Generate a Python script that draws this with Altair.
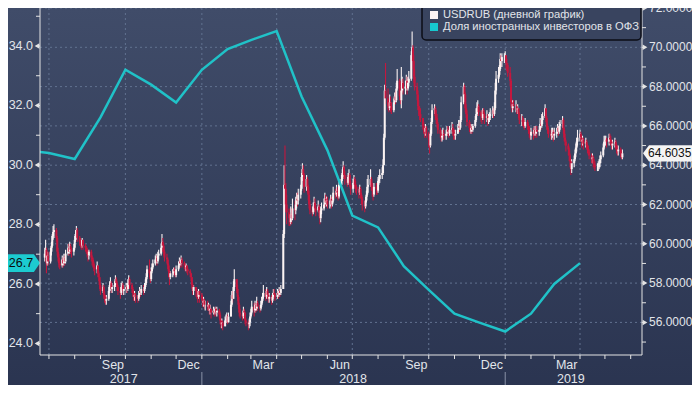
import altair as alt
import pandas as pd

W, H = 602, 347
FONT = "Liberation Sans"

# ---------------- data ----------------
usd_first_open = 59.3
# USDRUB daily closes, one row per week (Mon..Fri), from 2017-06-26
usd_close = [
    59.5, 59.7, 59.0, 59.4, 59.1,
    59.6, 59.9, 60.4, 60.6, 60.7,
    60.3, 59.6, 59.3, 59.0, 58.9,
    59.2, 59.0, 59.3, 59.1, 59.5,
    59.8, 59.6, 59.9, 59.7, 59.6,
    59.8, 60.2, 60.5, 60.7, 60.3,
    60.1, 60.0, 59.9, 60.2, 59.9,
    59.8, 59.7, 59.5, 59.4, 59.6,
    59.3, 59.2, 59.0, 58.8, 58.7,
    58.9, 58.5, 58.3, 57.9, 57.6,
    57.8, 57.4, 57.3, 57.1, 57.2,
    57.6, 57.9, 58.0, 57.7, 57.8,
    57.9, 58.2, 58.0, 57.8, 57.6,
    57.5, 57.8, 57.9, 57.6, 57.7,
    57.8, 57.7, 58.0, 58.2, 57.9,
    57.7, 57.5, 57.3, 57.4, 57.3,
    57.2, 57.4, 57.6, 57.5, 57.7,
    57.6, 57.8, 58.0, 58.3, 58.7,
    58.5, 58.2, 58.6, 58.8, 59.0,
    59.2, 59.3, 59.1, 59.4, 59.5,
    59.8, 60.1, 59.9, 59.6, 59.3,
    59.2, 58.9, 58.6, 58.3, 58.5,
    58.5, 58.7, 58.6, 58.4, 58.7,
    58.9, 59.1, 59.0, 59.2, 59.0,
    58.9, 58.8, 58.9, 58.7, 58.6,
    58.5, 58.3, 57.9, 57.6, 57.8,
    57.6, 57.5, 57.3, 57.6, 57.4,
    57.2, 57.0, 57.1, 56.9, 56.9,
    56.8, 56.9, 56.6, 56.7, 56.5,
    56.6, 56.5, 56.7, 56.5, 56.6,
    56.4, 56.1, 55.9, 56.0, 55.8,
    56.1, 56.2, 56.3, 56.0, 56.3,
    56.9, 57.4, 57.2, 57.8, 58.2,
    57.7, 57.3, 56.9, 56.5, 56.4,
    56.3, 56.6, 56.5, 56.1, 56.0,
    55.9, 56.0, 56.3, 56.5, 56.8,
    56.6, 56.9, 56.7, 57.0, 56.8,
    56.7, 56.9, 57.1, 57.3, 57.5,
    57.3, 57.6, 57.4, 57.2, 57.3,
    57.1, 57.3, 57.5, 57.4, 57.3,
    57.5, 57.4, 57.6, 57.5, 57.7,
    60.5, 63.0, 62.8, 62.0, 61.6,
    61.3, 61.1, 61.5, 61.3, 61.8,
    61.7, 62.0, 62.3, 62.2, 62.5,
    62.8, 63.4, 63.8, 63.5, 62.9,
    63.3, 62.9, 62.5, 62.0, 61.7,
    61.6, 61.9, 62.1, 61.8, 61.7,
    61.9, 61.6, 61.3, 61.7, 61.8,
    62.0, 62.3, 62.1, 62.2, 62.0,
    62.0, 62.3, 62.0, 62.2, 62.6,
    62.5, 62.7, 62.6, 62.4, 63.0,
    63.3, 63.6, 63.9, 63.5, 63.3,
    63.1, 63.4, 63.5, 63.0, 62.8,
    63.1, 63.3, 63.0, 62.9, 62.7,
    62.6, 62.8, 62.5, 62.3, 62.0,
    61.9, 62.2, 62.5, 62.9, 63.0,
    63.3, 62.9, 62.7, 62.5, 62.9,
    62.8, 62.7, 63.2, 63.3, 63.5,
    63.6, 64.0, 65.4, 67.8, 67.4,
    67.0, 66.9, 67.2, 67.0, 66.8,
    67.2, 67.5, 67.3, 67.9, 68.3,
    67.5, 67.3, 67.8, 68.2, 67.9,
    68.0, 68.3, 67.9, 68.2, 68.4,
    69.6, 70.0, 69.3, 68.5, 68.0,
    67.6, 67.0, 66.8, 66.6, 66.4,
    66.0, 65.8, 65.7, 65.9, 65.6,
    65.3, 65.0, 65.6, 66.2, 66.8,
    66.9, 66.5, 66.4, 66.1, 65.8,
    65.6, 65.4, 65.5, 65.6, 65.5,
    65.6, 65.8, 65.7, 65.6, 65.8,
    65.9, 65.7, 65.6, 65.5, 65.6,
    65.8, 66.0, 65.9, 66.3, 67.2,
    68.0, 67.6, 66.9, 66.6, 66.2,
    65.9, 65.7, 65.9, 65.8, 66.0,
    66.3, 66.6, 66.9, 67.0, 66.7,
    66.5, 66.4, 66.8, 66.6, 66.4,
    66.5, 66.3, 66.4, 66.5, 66.6,
    66.8, 66.6, 66.9, 67.8, 68.4,
    68.6, 68.9, 69.4, 69.3, 69.5,
    69.5, 69.6, 69.2, 69.1, 68.7,
    68.3, 67.2, 66.9, 67.1, 67.0,
    67.0, 66.8, 66.9, 66.6, 66.3,
    66.3, 66.2, 66.1, 66.0, 66.2,
    66.0, 65.8, 65.6, 65.5, 65.7,
    65.6, 65.8, 65.6, 65.8, 65.7,
    65.8, 66.1, 66.0, 66.3, 66.5,
    66.9, 66.4, 66.0, 65.8, 65.6,
    65.5, 65.6, 65.7, 65.5, 65.6,
    65.7, 65.9, 65.7, 66.0, 66.1,
    66.3, 65.8, 65.4, 65.2, 65.0,
    64.8, 64.5, 64.2, 63.8, 64.1,
    64.3, 64.6, 64.9, 65.2, 65.4,
    65.6, 65.4, 65.2, 65.3, 65.1,
    65.2, 65.0, 64.8, 64.7, 64.5,
    64.3, 64.4, 64.1, 64.0, 63.9,
    63.9, 63.9, 64.1, 64.3, 64.5,
    64.9, 65.2, 65.3, 65.3, 65.2,
    65.4, 65.3, 65.2, 65.0, 65.1,
    65.2, 65.0, 64.8, 64.7, 64.8,
    64.6, 64.4, 64.6035,
]
usd_high = [
    59.8, 60.2, 59.8, 59.6, 59.6,
    59.8, 60.1, 60.5, 60.9, 61.0,
    60.8, 60.4, 59.8, 59.5, 59.2,
    59.4, 59.3, 59.5, 59.4, 59.7,
    60.0, 60.0, 60.1, 60.0, 59.8,
    60.0, 60.4, 60.7, 60.9, 60.8,
    60.4, 60.3, 60.1, 60.3, 60.2,
    60.0, 59.9, 59.8, 59.6, 59.7,
    59.7, 59.4, 59.3, 59.1, 58.9,
    59.1, 58.9, 58.6, 58.3, 58.0,
    58.0, 57.9, 57.6, 57.4, 57.4,
    57.8, 58.1, 58.3, 58.1, 58.0,
    58.1, 58.4, 58.3, 58.1, 57.9,
    57.8, 58.0, 58.1, 58.0, 57.9,
    58.0, 57.9, 58.2, 58.4, 58.3,
    58.0, 57.8, 57.6, 57.6, 57.5,
    57.4, 57.6, 57.8, 57.7, 57.9,
    57.9, 58.0, 58.2, 58.5, 58.9,
    59.2, 58.6, 58.8, 59.0, 59.2,
    59.4, 59.5, 59.4, 59.6, 59.7,
    60.0, 60.5, 60.3, 60.0, 59.7,
    59.5, 59.3, 59.0, 58.7, 58.6,
    58.7, 58.8, 58.8, 58.7, 58.9,
    59.1, 59.3, 59.2, 59.4, 59.3,
    59.1, 59.0, 59.0, 58.9, 58.8,
    58.7, 58.5, 58.3, 58.0, 57.9,
    57.8, 57.7, 57.6, 57.7, 57.6,
    57.5, 57.3, 57.3, 57.2, 57.1,
    57.1, 57.0, 56.9, 56.9, 56.7,
    56.8, 56.7, 56.8, 56.8, 56.8,
    56.7, 56.5, 56.2, 56.2, 56.1,
    56.3, 56.4, 56.5, 56.4, 56.5,
    57.1, 57.6, 57.6, 58.1, 58.7,
    58.1, 57.9, 57.4, 57.0, 56.7,
    56.5, 56.8, 56.7, 56.5, 56.2,
    56.1, 56.2, 56.5, 56.7, 57.1,
    57.0, 57.1, 57.0, 57.3, 57.1,
    56.9, 57.1, 57.3, 57.5, 57.9,
    57.7, 57.8, 57.7, 57.5, 57.5,
    57.4, 57.5, 57.7, 57.7, 57.5,
    57.7, 57.6, 57.8, 57.7, 57.9,
    60.7, 64.0, 65.0, 63.1, 62.5,
    61.8, 61.5, 61.9, 61.8, 62.3,
    62.2, 62.4, 62.6, 62.6, 62.8,
    63.0, 63.6, 64.1, 64.0, 63.6,
    63.5, 63.4, 63.0, 62.7, 62.2,
    61.9, 62.1, 62.4, 62.3, 62.0,
    62.2, 62.0, 61.7, 61.9, 62.1,
    62.3, 62.6, 62.5, 62.4, 62.4,
    62.2, 62.5, 62.4, 62.4, 62.9,
    62.8, 63.0, 62.9, 62.8, 63.3,
    63.5, 63.8, 64.2, 64.0, 63.7,
    63.5, 63.6, 63.8, 63.6, 63.2,
    63.3, 63.5, 63.4, 63.2, 63.0,
    62.9, 63.0, 62.9, 62.6, 62.4,
    62.2, 62.4, 62.7, 63.3, 63.5,
    63.8, 63.4, 63.1, 62.9, 63.1,
    63.1, 63.0, 63.4, 63.5, 63.8,
    63.9, 64.3, 65.6, 68.1, 69.2,
    67.9, 67.3, 67.6, 67.5, 67.2,
    67.4, 67.7, 67.8, 68.2, 68.9,
    68.4, 67.8, 69.0, 68.5, 68.4,
    68.3, 68.6, 68.5, 68.5, 68.8,
    69.8, 70.8, 70.1, 69.6, 68.9,
    68.2, 67.8, 67.3, 67.0, 66.9,
    66.4, 66.2, 66.0, 66.1, 66.0,
    65.7, 65.4, 65.8, 66.4, 67.1,
    67.1, 67.0, 66.8, 66.6, 66.2,
    65.9, 65.7, 65.8, 65.9, 65.8,
    65.8, 66.0, 66.0, 65.9, 66.0,
    66.2, 66.1, 65.9, 65.8, 65.8,
    66.1, 66.3, 66.2, 66.5, 67.5,
    68.2, 68.1, 67.7, 67.1, 66.8,
    66.3, 66.1, 66.1, 66.0, 66.1,
    66.5, 66.9, 67.2, 67.3, 67.1,
    66.8, 66.6, 66.9, 66.9, 66.7,
    66.8, 66.6, 66.6, 66.7, 66.9,
    67.0, 66.9, 67.2, 68.2, 68.8,
    69.0, 69.1, 69.7, 69.6, 69.7,
    69.7, 69.8, 69.6, 69.4, 69.2,
    69.0, 68.4, 67.4, 67.3, 67.3,
    67.3, 67.1, 67.1, 66.9, 66.7,
    66.6, 66.5, 66.4, 66.3, 66.4,
    66.3, 66.1, 66.0, 65.8, 65.9,
    65.9, 66.0, 66.0, 66.0, 66.0,
    66.0, 66.4, 66.3, 66.6, 66.7,
    67.1, 66.9, 66.5, 66.1, 65.9,
    65.8, 65.9, 65.9, 65.8, 65.9,
    65.9, 66.1, 66.0, 66.2, 66.3,
    66.5, 66.4, 65.9, 65.6, 65.3,
    65.1, 64.9, 64.6, 64.3, 64.3,
    64.5, 64.8, 65.1, 65.4, 65.8,
    65.8, 65.7, 65.5, 65.5, 65.4,
    65.4, 65.3, 65.1, 65.0, 64.8,
    64.6, 64.6, 64.5, 64.3, 64.2,
    64.1, 64.2, 64.3, 64.5, 64.7,
    65.1, 65.5, 65.5, 65.5, 65.4,
    65.6, 65.6, 65.5, 65.3, 65.3,
    65.4, 65.3, 65.1, 65.0, 65.0,
    64.9, 64.7, 64.8,
]
usd_low = [
    59.1, 59.3, 58.5, 58.9, 58.9,
    59.0, 59.4, 59.8, 60.2, 60.3,
    60.1, 59.4, 59.1, 58.8, 58.7,
    58.8, 58.8, 58.9, 58.9, 59.0,
    59.4, 59.4, 59.5, 59.5, 59.3,
    59.4, 59.7, 60.1, 60.3, 60.1,
    59.9, 59.8, 59.7, 59.8, 59.7,
    59.6, 59.5, 59.3, 59.1, 59.2,
    59.1, 58.9, 58.8, 58.6, 58.4,
    58.5, 58.3, 58.1, 57.7, 57.4,
    57.5, 57.2, 57.0, 56.9, 56.9,
    57.1, 57.5, 57.7, 57.5, 57.5,
    57.6, 57.8, 57.8, 57.6, 57.4,
    57.2, 57.4, 57.6, 57.4, 57.4,
    57.5, 57.5, 57.6, 57.9, 57.7,
    57.5, 57.3, 57.1, 57.1, 57.0,
    57.0, 57.1, 57.3, 57.3, 57.4,
    57.4, 57.5, 57.7, 57.9, 58.2,
    58.3, 58.0, 58.1, 58.5, 58.7,
    58.9, 59.0, 58.9, 59.0, 59.2,
    59.4, 59.7, 59.6, 59.4, 59.1,
    59.0, 58.7, 58.3, 57.9, 58.2,
    58.3, 58.4, 58.4, 58.3, 58.3,
    58.6, 58.8, 58.8, 58.9, 58.8,
    58.7, 58.6, 58.6, 58.5, 58.4,
    58.3, 58.1, 57.7, 57.4, 57.4,
    57.3, 57.2, 57.0, 57.2, 57.0,
    57.1, 56.8, 56.8, 56.7, 56.6,
    56.6, 56.6, 56.4, 56.4, 56.2,
    56.4, 56.3, 56.4, 56.3, 56.3,
    56.2, 55.9, 55.7, 55.7, 55.6,
    55.8, 56.0, 56.0, 55.9, 56.0,
    56.3, 56.8, 57.0, 57.2, 57.6,
    57.5, 57.1, 56.7, 56.3, 56.2,
    56.1, 56.2, 56.3, 55.9, 55.8,
    55.6, 55.7, 55.8, 56.2, 56.4,
    56.3, 56.5, 56.5, 56.6, 56.6,
    56.5, 56.6, 56.8, 57.0, 57.2,
    57.1, 57.2, 57.2, 57.0, 57.0,
    56.9, 57.0, 57.2, 57.2, 57.1,
    57.2, 57.2, 57.3, 57.3, 57.4,
    57.7, 60.3, 62.2, 61.6, 61.0,
    60.9, 60.9, 61.0, 61.0, 61.2,
    61.2, 61.5, 61.8, 61.9, 62.0,
    62.3, 62.7, 63.2, 63.0, 62.6,
    62.7, 62.6, 62.2, 61.8, 61.5,
    61.4, 61.5, 61.7, 61.6, 61.4,
    61.6, 61.4, 61.0, 61.1, 61.5,
    61.7, 61.9, 61.9, 61.9, 61.8,
    61.8, 61.9, 61.8, 61.9, 62.1,
    62.3, 62.4, 62.3, 62.2, 62.3,
    62.9, 63.2, 63.4, 63.3, 63.0,
    62.9, 63.0, 63.2, 62.9, 62.5,
    62.6, 62.9, 62.8, 62.6, 62.5,
    62.3, 62.5, 62.3, 62.0, 61.7,
    61.6, 61.8, 62.1, 62.4, 62.6,
    62.9, 62.7, 62.4, 62.2, 62.4,
    62.5, 62.5, 62.6, 63.0, 63.1,
    63.3, 63.5, 64.1, 65.3, 67.1,
    66.8, 66.7, 66.8, 66.7, 66.6,
    66.7, 67.1, 67.1, 67.2, 67.8,
    67.3, 67.1, 66.9, 67.7, 67.6,
    67.6, 67.8, 67.6, 67.8, 68.0,
    68.3, 69.3, 68.9, 68.2, 67.8,
    67.3, 66.8, 66.5, 66.3, 66.2,
    65.8, 65.6, 65.4, 65.5, 65.4,
    64.9, 64.6, 64.9, 65.5, 66.1,
    66.6, 66.3, 66.1, 65.9, 65.6,
    65.4, 65.2, 65.2, 65.3, 65.3,
    65.3, 65.5, 65.5, 65.4, 65.5,
    65.6, 65.5, 65.3, 65.3, 65.3,
    65.6, 65.7, 65.7, 65.8, 66.2,
    67.1, 67.4, 66.7, 66.4, 66.0,
    65.7, 65.6, 65.6, 65.6, 65.7,
    65.9, 66.2, 66.5, 66.7, 66.5,
    66.2, 66.1, 66.3, 66.4, 66.1,
    66.2, 66.0, 66.1, 66.2, 66.3,
    66.4, 66.4, 66.5, 66.8, 67.6,
    68.2, 68.5, 68.8, 69.0, 69.0,
    69.2, 69.3, 68.9, 68.8, 68.5,
    68.0, 67.0, 66.7, 66.7, 66.8,
    66.7, 66.6, 66.6, 66.4, 66.1,
    66.0, 66.0, 65.9, 65.8, 65.9,
    65.8, 65.6, 65.4, 65.3, 65.3,
    65.3, 65.5, 65.4, 65.5, 65.4,
    65.5, 65.7, 65.8, 65.9, 66.1,
    66.4, 66.2, 65.8, 65.6, 65.4,
    65.3, 65.3, 65.4, 65.2, 65.3,
    65.4, 65.6, 65.5, 65.6, 65.8,
    65.9, 65.6, 65.2, 65.0, 64.7,
    64.5, 64.2, 63.9, 63.5, 63.6,
    63.9, 64.2, 64.4, 64.7, 65.0,
    65.2, 65.2, 64.9, 65.0, 64.8,
    64.9, 64.8, 64.6, 64.5, 64.3,
    64.1, 64.1, 63.9, 63.8, 63.7,
    63.7, 63.7, 63.8, 63.9, 64.1,
    64.4, 64.8, 65.0, 65.0, 64.9,
    65.0, 65.1, 65.0, 64.8, 64.8,
    64.9, 64.8, 64.6, 64.5, 64.5,
    64.4, 64.3, 64.3,
]

# Share of foreign investors in OFZ (%), monthly
ofz_dates = [
    "2017-06-01", "2017-07-01", "2017-08-01", "2017-09-01", "2017-10-01",
    "2017-11-01", "2017-12-01", "2018-01-01", "2018-02-01", "2018-03-01",
    "2018-04-01", "2018-05-01", "2018-06-01", "2018-07-01", "2018-08-01",
    "2018-09-01", "2018-10-01", "2018-11-01", "2018-12-01", "2019-01-01",
    "2019-02-01", "2019-03-01", "2019-04-01",
]
ofz_share = [
    30.5, 30.4, 30.2, 31.6, 33.2,
    32.7, 32.1, 33.2, 33.9, 34.2,
    34.5, 32.3, 30.5, 28.3, 27.9,
    26.6, 25.8, 25.0, 24.7, 24.4,
    25.0, 26.0, 26.7,
]

right_ticks = list(range(55, 73))
right_major = [56, 58, 60, 62, 64, 66, 68, 70, 72]
left_ticks = list(range(24, 36))
left_major = [24, 26, 28, 30, 32, 34]
month_label_text = ["Sep", "Dec", "Mar", "Jun", "Sep", "Dec", "Mar"]
month_label_dates = ["2017-09-16", "2017-12-16", "2018-03-16", "2018-06-16",
                     "2018-09-16", "2018-12-16", "2019-03-16"]
year_label_text = ["2017", "2018", "2019"]
year_label_dates = ["2017-09-29", "2018-07-02", "2019-03-21"]
year_sep_dates = ["2018-01-01", "2019-01-01"]
grid_dates = ["2017-07-01", "2017-10-01", "2018-01-01", "2018-04-01",
              "2018-07-01", "2018-10-01", "2019-01-01", "2019-04-01"]
legend_labels = ["USDRUB (дневной график)", "Доля иностранных инвесторов в ОФЗ"]

# ---------------- colours ----------------
C_UP, C_DOWN = "#fbf3f3", "#c4173e"
C_CYAN = "#20c2c8"
C_GRID = "#627290"
C_AXIS = "#e4e4e4"
C_TEXT = "#e2e5ea"

# ---------------- tables ----------------
n = min(len(usd_close), len(usd_high), len(usd_low))
dates = pd.bdate_range("2017-06-26", periods=n).strftime("%Y-%m-%d")
opens = [usd_first_open] + usd_close[: n - 1]
closes = usd_close[:n]
highs = [max(h, o, c) for h, o, c in zip(usd_high[:n], opens, closes)]
lows = [min(l, o, c) for l, o, c in zip(usd_low[:n], opens, closes)]
candles = pd.DataFrame({
    "date": dates, "open": opens, "close": closes, "high": highs, "low": lows,
    "dir": ["up" if c >= o else "down" for o, c in zip(opens, closes)],
})
ofz = pd.DataFrame({"date": ofz_dates, "share": ofz_share})
one = pd.DataFrame({"k": [0]})

xs = alt.Scale(type="utc", nice=False, domain=[
    alt.DateTime(year=2017, month=6, date=26, hours=6, utc=True),
    alt.DateTime(year=2019, month=6, date=8, hours=14, utc=True)])
yR = alt.Scale(domain=[72 - H / 19.65, 72.0], nice=False, zero=False)
yL = alt.Scale(domain=[34 - (H - 38) / 29.74, 34 + 38 / 29.74], nice=False, zero=False)

tick_months = [f"{y}-{m:02d}-01" for y in (2017, 2018, 2019) for m in range(1, 13)
               if (2017, 7) <= (y, m) <= (2019, 6)]

# ---------------- background ----------------
bg = alt.Chart(one).mark_rect(
    fill=alt.Gradient(gradient="linear", x1=0, x2=0, y1=0, y2=1, stops=[
        alt.GradientStop(color="#404c69", offset=0),
        alt.GradientStop(color="#2a3450", offset=1)])
).encode(x=alt.value(-40), x2=alt.value(W + 60), y=alt.value(0), y2=alt.value(H + 40))

vgrid = alt.Chart(pd.DataFrame({"d": grid_dates})).mark_rule(
    color=C_GRID, strokeDash=[2, 3], strokeWidth=1
).encode(x=alt.X("d:T", scale=xs, axis=None), y=alt.value(0), y2=alt.value(H))

# ---------------- right-scale group (USDRUB) ----------------
hgrid = alt.Chart(pd.DataFrame({"v": right_major})).mark_rule(
    color=C_GRID, strokeDash=[2, 3], strokeWidth=1
).encode(y=alt.Y("v:Q", scale=yR, axis=None), x=alt.value(0), x2=alt.value(W))

color_dir = alt.Color("dir:N", scale=alt.Scale(domain=["up", "down"], range=[C_UP, C_DOWN]),
                      legend=None)

wicks = alt.Chart(candles).mark_rule(strokeWidth=1.1).encode(
    x=alt.X("date:T", scale=xs, axis=None),
    y=alt.Y("low:Q", scale=yR, axis=None),
    y2="high:Q",
    color=color_dir,
)
bodies = alt.Chart(candles).mark_bar(size=2).encode(
    x=alt.X("date:T", scale=xs, axis=None),
    y=alt.Y("open:Q", scale=yR, axis=None),
    y2="close:Q",
    color=color_dir,
)
r_ticks = alt.Chart(pd.DataFrame({"v": right_ticks})).mark_rule(color=C_AXIS, strokeWidth=1).encode(
    y=alt.Y("v:Q", scale=yR, axis=None), x=alt.value(W), x2=alt.value(W + 4))
r_tri = alt.Chart(pd.DataFrame({"v": right_major})).mark_point(
    shape="triangle-right", filled=True, size=30, opacity=1, color=C_AXIS
).encode(y=alt.Y("v:Q", scale=yR, axis=None), x=alt.value(W + 3))
r_lab = alt.Chart(pd.DataFrame({"v": right_major,
                                "t": [f"{v:.4f}" for v in right_major]})).mark_text(
    align="left", baseline="middle", font=FONT, fontSize=12, color=C_TEXT
).encode(y=alt.Y("v:Q", scale=yR, axis=None), x=alt.value(W + 7), text="t:N")

last_usd = pd.DataFrame({"v": [closes[-1]], "lab": [f"{closes[-1]:.4f}"]})
r_box = alt.Chart(last_usd).mark_point(
    shape="M-1,0L-0.8,-0.27L1,-0.27L1,0.27L-0.8,0.27Z", size=3600, filled=True,
    opacity=1, color="#f4f4f4"
).encode(y=alt.Y("v:Q", scale=yR, axis=None), x=alt.value(W + 31))
r_txt = alt.Chart(last_usd).mark_text(
    align="left", baseline="middle", font=FONT, fontSize=12, color="#111111"
).encode(y=alt.Y("v:Q", scale=yR, axis=None), x=alt.value(W + 6), text="lab:N")

right_group = alt.layer(hgrid, wicks, bodies, r_ticks, r_tri, r_lab, r_box, r_txt)

# ---------------- left-scale group (OFZ share) ----------------
line = alt.Chart(ofz).mark_line(color=C_CYAN, strokeWidth=2.5, clip=True).encode(
    x=alt.X("date:T", scale=xs, axis=None),
    y=alt.Y("share:Q", scale=yL, axis=None),
)
l_ticks = alt.Chart(pd.DataFrame({"v": left_ticks})).mark_rule(color=C_AXIS, strokeWidth=1).encode(
    y=alt.Y("v:Q", scale=yL, axis=None), x=alt.value(-4), x2=alt.value(0))
l_tri = alt.Chart(pd.DataFrame({"v": left_major})).mark_point(
    shape="triangle-left", filled=True, size=30, opacity=1, color=C_AXIS
).encode(y=alt.Y("v:Q", scale=yL, axis=None), x=alt.value(-3))
l_lab = alt.Chart(pd.DataFrame({"v": left_major,
                                "t": [f"{v:.1f}" for v in left_major]})).mark_text(
    align="right", baseline="middle", font=FONT, fontSize=12.5, color=C_TEXT
).encode(y=alt.Y("v:Q", scale=yL, axis=None), x=alt.value(-7), text="t:N")

last_ofz = pd.DataFrame({"v": [ofz_share[-1]], "lab": [f"{ofz_share[-1]:.1f}"]})
l_box = alt.Chart(last_ofz).mark_point(
    shape="M-1,-0.56L0.62,-0.56L1,0L0.62,0.56L-1,0.56Z", size=1024, filled=True,
    opacity=1, color="#1ccbd0"
).encode(y=alt.Y("v:Q", scale=yL, axis=None), x=alt.value(-16))
l_txt = alt.Chart(last_ofz).mark_text(
    align="center", baseline="middle", font=FONT, fontSize=12.5, color="#0a0a0a"
).encode(y=alt.Y("v:Q", scale=yL, axis=None), x=alt.value(-19), text="lab:N")

left_group = alt.layer(line, l_ticks, l_tri, l_lab, l_box, l_txt)

# ---------------- frame (axis lines) and x ticks ----------------
frame_l = alt.Chart(one).mark_rule(color=C_AXIS, strokeWidth=1).encode(
    x=alt.value(0), y=alt.value(0), y2=alt.value(H))
frame_r = alt.Chart(one).mark_rule(color=C_AXIS, strokeWidth=1).encode(
    x=alt.value(W), y=alt.value(0), y2=alt.value(H))
frame_b = alt.Chart(one).mark_rule(color=C_AXIS, strokeWidth=1).encode(
    x=alt.value(0), x2=alt.value(W), y=alt.value(H))
x_ticks = alt.Chart(pd.DataFrame({"d": tick_months})).mark_rule(
    color=C_AXIS, strokeWidth=1
).encode(x=alt.X("d:T", scale=xs, axis=None), y=alt.value(H), y2=alt.value(H + 4))

# ---------------- legend ----------------
leg_box = alt.Chart(one).mark_rect(
    fill="#39445f", stroke="#0b0d16", strokeWidth=1.5, cornerRadius=4
).encode(x=alt.value(382), x2=alt.value(601), y=alt.value(-10), y2=alt.value(32))
leg_sq1 = alt.Chart(one).mark_square(size=64, filled=True, opacity=1, color=C_UP).encode(
    x=alt.value(394), y=alt.value(7))
leg_sq2 = alt.Chart(one).mark_square(size=64, filled=True, opacity=1, color="#17c8cf").encode(
    x=alt.value(394), y=alt.value(19))
leg_t1 = alt.Chart(pd.DataFrame({"t": [legend_labels[0]]})).mark_text(
    align="left", baseline="middle", font=FONT, fontSize=11.2, color=C_TEXT
).encode(x=alt.value(403), y=alt.value(7), text="t:N")
leg_t2 = alt.Chart(pd.DataFrame({"t": [legend_labels[1]]})).mark_text(
    align="left", baseline="middle", font=FONT, fontSize=11.2, color=C_TEXT
).encode(x=alt.value(403), y=alt.value(19), text="t:N")

# ---------------- x labels ----------------
m_lab = alt.Chart(pd.DataFrame({"d": month_label_dates, "t": month_label_text})).mark_text(
    align="center", baseline="middle", font=FONT, fontSize=12.5, color=C_TEXT
).encode(x=alt.X("d:T", scale=xs, axis=None), y=alt.value(H + 10), text="t:N")
y_lab = alt.Chart(pd.DataFrame({"d": year_label_dates, "t": year_label_text})).mark_text(
    align="center", baseline="middle", font=FONT, fontSize=12.5, color=C_TEXT
).encode(x=alt.X("d:T", scale=xs, axis=None), y=alt.value(H + 24), text="t:N")
y_sep = alt.Chart(pd.DataFrame({"d": year_sep_dates})).mark_rule(
    color="#8a93a8", strokeWidth=1
).encode(x=alt.X("d:T", scale=xs, axis=None), y=alt.value(H + 17), y2=alt.value(H + 40))

chart = alt.layer(
    bg, vgrid, right_group, left_group,
    frame_l, frame_r, frame_b, x_ticks,
    leg_box, leg_sq1, leg_sq2, leg_t1, leg_t2,
    m_lab, y_lab, y_sep,
).resolve_scale(y="independent").properties(
    width=W, height=H,
    padding={"left": 32, "top": 0, "right": 50, "bottom": 30},
    autosize=alt.AutoSizeParams(type="none"),
    background="#2c3651",
).configure_view(strokeWidth=0)

chart.save("out.html", embed_options={"renderer": "svg", "actions": False})
